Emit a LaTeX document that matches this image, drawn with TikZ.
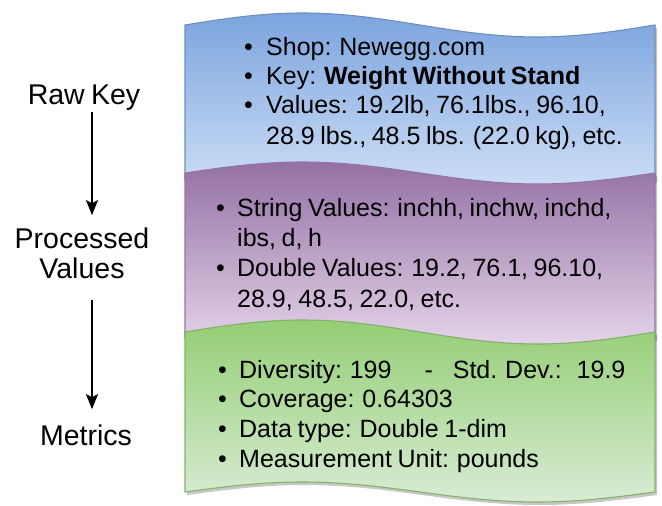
\documentclass[tikz,border=0pt]{standalone}
\usepackage{fontspec}
\setmainfont[WordSpace=0.8]{Liberation Sans}
\usetikzlibrary{arrows.meta}

\definecolor{bluetop}{RGB}{124,164,222}
\definecolor{bluebot}{RGB}{206,223,246}
\definecolor{blueline}{RGB}{108,142,191}
\definecolor{purptop}{RGB}{148,112,164}
\definecolor{purpbot}{RGB}{230,214,235}
\definecolor{purpline}{RGB}{150,115,166}
\definecolor{greentop}{RGB}{148,206,116}
\definecolor{greenbot}{RGB}{216,236,212}
\definecolor{greenline}{RGB}{130,179,102}

% wavy band: top baseline, bottom baseline, top amplitude, bottom amplitude
\newcommand\tapepath[4]{%
  (185,#1) sin (302.5,#1-#3) cos (420,#1) sin (537.5,#1+#3) cos (655,#1)
  -- (655,#2) sin (537.5,#2+#4) cos (420,#2) sin (302.5,#2-#4) cos (185,#2) -- cycle}
% bullet followed by its text
\newcommand\itm[2]{\makebox[#1][l]{\textbullet}#2}

\tikzset{
  band/.style={line width=1.1pt, shading=axis, shading angle=0},
  bandshadow/.style={fill=black, opacity=0.22, xshift=2pt, yshift=-3pt},
  txt/.style={anchor=base west, inner sep=0pt, font=\fontsize{25}{29}\selectfont},
  lbl/.style={anchor=base, inner sep=2pt, align=center, font=\fontsize{28.5}{30}\selectfont},
  flow/.style={line width=1.5pt, -{Stealth[length=15pt,width=12pt,inset=3pt]}}
}

\begin{document}
\begin{tikzpicture}[x=1pt,y=-1pt]
\useasboundingbox (0,0) rectangle (662,506);

% blue band
\path[bandshadow] \tapepath{25}{180}{12}{11};
\path[band, draw=blueline, top color=bluetop, bottom color=bluebot] \tapepath{25}{180}{12}{11};
% purple band
\path[bandshadow] \tapepath{173}{338}{11}{12};
\path[band, draw=purpline, top color=purptop, bottom color=purpbot] \tapepath{173}{338}{11}{12};
% green band
\path[bandshadow] \tapepath{332}{492}{12}{10};
\path[band, draw=greenline, top color=greentop, bottom color=greenbot] \tapepath{332}{492}{12}{10};

% raw key details
\node[txt] (b1) at (244,55) {\itm{22pt}{Shop: Newegg.com}};
\node[txt] (b2) at (244,84) {\itm{22pt}{Key: \textbf{Weight Without Stand}}};
\node[txt] (b3) at (244,113) {\itm{22pt}{Values: 19.2lb, 76.1lbs., 96.10,}};
\node[txt] (b4) at (266,144) {28.9 lbs., 48.5 lbs. (22.0 kg), etc.};

% processed values
\node[txt] (p1) at (216,216) {\itm{21pt}{String Values: inchh, inchw, inchd,}};
\node[txt] (p2) at (237,246) {ibs, d, h};
\node[txt] (p3) at (216,276) {\itm{21pt}{Double Values: 19.2, 76.1, 96.10,}};
\node[txt] (p4) at (237,307) {28.9, 48.5, 22.0, etc.};

% metrics
\node[txt] (g1) at (218,378) {\itm{21pt}{Diversity: 199\hspace{33pt}-\hspace{20pt}Std. Dev.:\hspace{15pt}19.9}};
\node[txt] (g2) at (218,407) {\itm{21pt}{Coverage: 0.64303}};
\node[txt] (g3) at (218,437) {\itm{21pt}{Data type: Double 1-dim}};
\node[txt] (g4) at (218,467) {\itm{21pt}{Measurement Unit: pounds}};

% stage labels and flow arrows
\node[lbl] (raw) at (84,104) {Raw Key};
\node[lbl] (proc) at (82,278) {Processed\\Values};
\node[lbl] (met) at (86,445) {Metrics};
\draw[flow, shorten >=10pt] ([xshift=8pt]raw.south) -- ([xshift=10pt]proc.north);
\draw[flow, shorten <=20pt, shorten >=13pt] ([xshift=10pt]proc.south) -- ([xshift=6pt]met.north);
\end{tikzpicture}
\end{document}
